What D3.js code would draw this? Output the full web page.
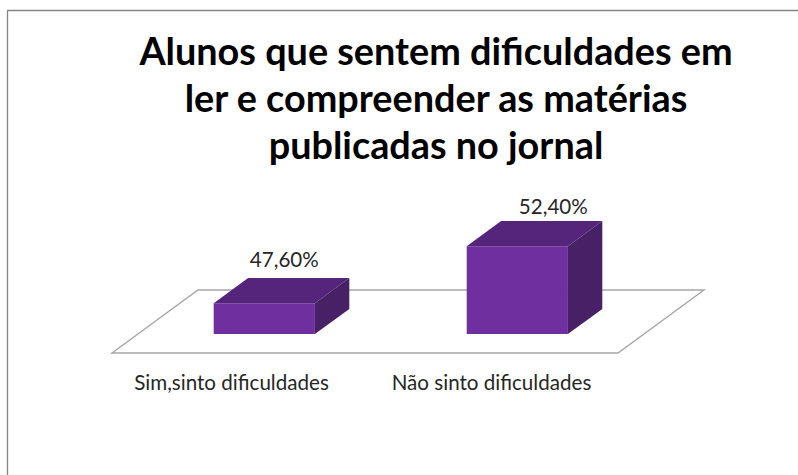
<!DOCTYPE html>
<html>
<head>
<meta charset="utf-8">
<script src="https://cdnjs.cloudflare.com/ajax/libs/d3/7.8.5/d3.min.js"></script>
<style>
  html, body {margin:0; padding:0; background:#fff;}
  svg {display:block;}
  text {font-family:Lato, "Open Sans", sans-serif;}
  .title {font-size:37.8px; font-weight:700; fill:#000; text-anchor:middle;}
  .label {font-size:20.6px; fill:#262626; text-anchor:middle;}
</style>
</head>
<body>
<div id="canvas"></div>
<script>
var titleLines = ['Alunos que sentem dificuldades em', 'ler e compreender as matérias', 'publicadas no jornal'];
var categories = ['Sim,sinto dificuldades', 'Não sinto dificuldades'];
var values = [47.6, 52.4];
var valueLabels = ['47,60%', '52,40%'];

var W = 798, H = 475;

var svg = d3.select('#canvas')
    .append('svg')
    .attr('width', W)
    .attr('height', H);

// frame, only top and left show in the picture
svg.append('path')
    .attr('d', 'M7.5,' + H + 'V10.5H' + W)
    .attr('fill', 'none')
    .attr('stroke', '#868686')
    .attr('stroke-width', 1.3);

// Scale
var scaleX = d3.scaleBand()
    .domain(categories)
    .range([112, 618])
    .paddingInner(0.6)
    .paddingOuter(0.3);
// value axis does not start at zero
var scaleY = d3.scaleLinear()
    .domain([45, 53])
    .range([0, 95]);

// oblique floor, all depth goes along this direction
var floorY = 353, depthX = 86, depthY = -63;
var gap = 0.3, barDepth = 0.4;

function pts(a) {
  return a.map(function(p) {return p.join(',');}).join(' ');
}

svg.append('polygon')
    .attr('points', pts([
      [scaleX.range()[0], floorY],
      [scaleX.range()[1], floorY],
      [scaleX.range()[1] + depthX, floorY + depthY],
      [scaleX.range()[0] + depthX, floorY + depthY]
    ]))
    .attr('fill', '#fff')
    .attr('stroke', '#a6a6a6')
    .attr('stroke-width', 1.4);

var data = categories.map(function(c, i) {
  return {cat: c, value: values[i], label: valueLabels[i]};
});

var bars = svg.selectAll('.bar').data(data).enter()
    .append('g')
    .attr('class', 'bar');

function corners(d) {
  var x0 = scaleX(d.cat) + depthX * gap,
      x1 = x0 + scaleX.bandwidth(),
      y0 = floorY + depthY * gap,
      y1 = y0 - scaleY(d.value),
      dx = depthX * barDepth,
      dy = depthY * barDepth;
  return {x0:x0, x1:x1, y0:y0, y1:y1, dx:dx, dy:dy};
}

// front
bars.append('polygon')
    .attr('fill', '#6f2f9f')
    .attr('points', function(d) {
      var c = corners(d);
      return pts([[c.x0,c.y0],[c.x1,c.y0],[c.x1,c.y1],[c.x0,c.y1]]);
    });
// top
bars.append('polygon')
    .attr('fill', '#54257a')
    .attr('points', function(d) {
      var c = corners(d);
      return pts([[c.x0,c.y1],[c.x1,c.y1],[c.x1+c.dx,c.y1+c.dy],[c.x0+c.dx,c.y1+c.dy]]);
    });
// side
bars.append('polygon')
    .attr('fill', '#472066')
    .attr('points', function(d) {
      var c = corners(d);
      return pts([[c.x1,c.y0],[c.x1+c.dx,c.y0+c.dy],[c.x1+c.dx,c.y1+c.dy],[c.x1,c.y1]]);
    });

// value labels were dragged by hand in the original, so nudged per bar
var labelNudgeX = [20, 36], labelNudgeY = [-11, -7];
svg.selectAll('.valueLabel').data(data).enter()
    .append('text')
    .attr('class', 'label valueLabel')
    .attr('x', function(d, i) {return corners(d).x0 + scaleX.bandwidth()/2 + labelNudgeX[i];})
    .attr('y', function(d, i) {var c = corners(d); return c.y1 + c.dy + labelNudgeY[i];})
    .text(function(d) {return d.label;});

var catNudgeX = [-7, 0];
svg.selectAll('.catLabel').data(data).enter()
    .append('text')
    .attr('class', 'label catLabel')
    .attr('x', function(d, i) {return scaleX(d.cat) + scaleX.bandwidth()/2 + catNudgeX[i];})
    .attr('y', 390)
    .text(function(d) {return d.cat;});

svg.selectAll('.title').data(titleLines).enter()
    .append('text')
    .attr('class', 'title')
    .attr('x', 436)
    .attr('y', function(d, i) {return 65 + i*46.8;})
    .text(function(d) {return d;});
</script>
</body>
</html>
